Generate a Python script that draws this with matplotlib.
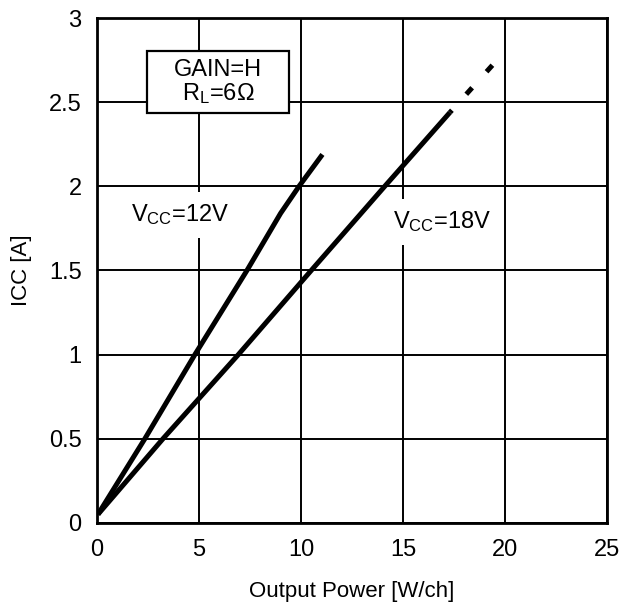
import matplotlib
matplotlib.use("Agg")
import matplotlib.pyplot as plt
from matplotlib.patches import Rectangle

plt.rcParams['font.family'] = ['Liberation Sans', 'DejaVu Sans']
plt.rcParams['mathtext.fontset'] = 'custom'
plt.rcParams['mathtext.rm'] = 'Liberation Sans'
plt.rcParams['mathtext.it'] = 'Liberation Sans'
plt.rcParams['lines.scale_dashes'] = False

# Data
vcc12_x = [0.05, 2.35, 4.8, 7.35, 9.0, 9.9, 11.05]
vcc12_y = [0.05, 0.5, 1.0, 1.5, 1.84, 2.0, 2.19]
vcc18_x = [0.05, 3.24, 6.93, 10.5, 14.1, 17.3]
vcc18_y = [0.05, 0.5, 1.0, 1.5, 2.0, 2.44]
vcc18_ext_x = [17.3, 19.45]
vcc18_ext_y = [2.44, 2.73]

xticks = [0, 5, 10, 15, 20, 25]
yticks = [0, 0.5, 1, 1.5, 2, 2.5, 3]
ytick_labels = ['0', '0.5', '1', '1.5', '2', '2.5', '3']

FS = 17
FS_LABEL = 16

fig = plt.figure(figsize=(6.33, 6.10), dpi=100)
ax = fig.add_axes([0.1532, 0.1431, 0.8058, 0.827])

ax.set_xlim(0, 25)
ax.set_ylim(0, 3)
ax.set_xticks(xticks)
ax.set_yticks(yticks)
ax.set_yticklabels(ytick_labels)
ax.tick_params(length=0, labelsize=FS, pad=11)
ax.tick_params(axis='x', pad=12)
ax.grid(True, color='black', linewidth=1.4)
ax.set_axisbelow(True)
for s in ax.spines.values():
    s.set_linewidth(2)
    s.set_color('black')

ax.plot(vcc12_x, vcc12_y, color='black', lw=3.6, solid_capstyle='butt', zorder=3)
ax.plot(vcc18_x, vcc18_y, color='black', lw=3.6, solid_capstyle='butt', zorder=3)
ax.plot(vcc18_ext_x, vcc18_ext_y, color='black', lw=3.6,
        linestyle=(-17.6, (6.3, 15.5)), dash_capstyle='butt', zorder=3)

ax.set_xlabel('Output Power [W/ch]', fontsize=FS_LABEL)
ax.set_ylabel('ICC [A]', fontsize=FS_LABEL)
ax.xaxis.set_label_coords(0.5, -0.115)
ax.yaxis.set_label_coords(-0.128, 0.5)

# annotation box
ax.add_patch(Rectangle((2.45, 2.437), 6.96, 0.369, fc='white', ec='black',
                       lw=1.6, zorder=4))
ax.text(5.93, 2.62, 'GAIN=H\nR$_{\\mathrm{L}}$=6Ω', ha='center', va='center',
        fontsize=FS, linespacing=1.0, zorder=5)
ax.text(4.07, 1.83, 'V$_{\\mathrm{CC}}$=12V', ha='center', va='center', fontsize=FS,
        zorder=4, bbox=dict(boxstyle='square,pad=0.45', fc='white', ec='none'))
ax.text(16.9, 1.79, 'V$_{\\mathrm{CC}}$=18V', ha='center', va='center', fontsize=FS,
        zorder=4, bbox=dict(boxstyle='square,pad=0.45', fc='white', ec='none'))

fig.savefig('out.png', dpi=100)
